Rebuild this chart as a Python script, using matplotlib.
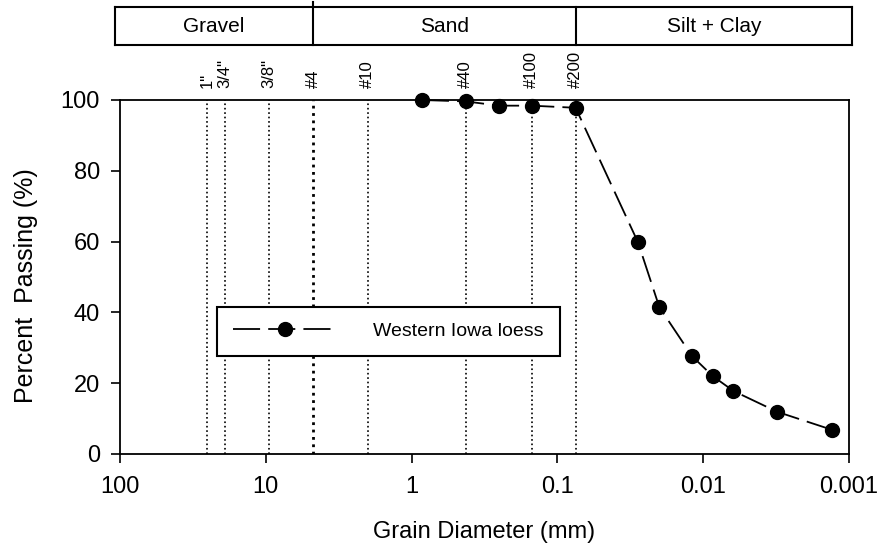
import matplotlib.pyplot as plt
import numpy as np

plt.rcParams['font.family'] = ['Liberation Sans', 'DejaVu Sans']

# sieve openings (mm) and their names
sieve_mm = [25.4, 19.05, 9.525, 4.75, 2.0, 0.425, 0.15, 0.075]
sieve_names = ['1"', '3/4"', '3/8"', '#4', '#10', '#40', '#100', '#200']

# grain size curve, Western Iowa loess
diam = [0.85, 0.425, 0.25, 0.15, 0.075, 0.028, 0.020, 0.0119, 0.0086, 0.0062, 0.0031, 0.0013]
passing = [100, 99.6, 98.4, 98.4, 97.8, 59.8, 41.5, 27.6, 22.0, 17.8, 11.9, 6.8]

# soil classes along the top
classes = ['Gravel', 'Sand', 'Silt + Clay']
class_bounds = [4.75, 0.075]

fig = plt.figure(figsize=(8.83, 5.5), dpi=100)
ax = fig.add_axes([120/883, 1-454/550, 729/883, 354/550])

ax.set_xscale('log')
ax.set_xlim(100, 0.001)
ax.set_ylim(0, 100)

for d in sieve_mm:
    lw = 2.0 if d == 4.75 else 1.2
    ax.vlines(d, 0, 100, colors='black', linestyles=':', linewidth=lw)
for d, name in zip(sieve_mm, sieve_names):
    ax.text(d, 103.3, name, rotation=90, ha='center', va='bottom', fontsize=12, clip_on=False)

ax.plot(diam, passing, color='black', lw=1.3, linestyle=(0, (15, 4.5)),
        marker='o', markersize=10, clip_on=False, zorder=5, label='Western Iowa loess')

ax.set_xticks([100, 10, 1, 0.1, 0.01, 0.001])
ax.set_xticklabels(['100', '10', '1', '0.1', '0.01', '0.001'])
ax.xaxis.set_minor_locator(plt.NullLocator())
ax.set_yticks([0, 20, 40, 60, 80, 100])
ax.tick_params(axis='both', direction='out', length=6.5, width=1.2, labelsize=17)
ax.tick_params(axis='x', pad=9)
ax.tick_params(axis='y', pad=8)
for s in ax.spines.values():
    s.set_linewidth(1.3)

ax.set_xlabel('Grain Diameter (mm)', fontsize=17)
ax.xaxis.set_label_coords(0.5, -0.19)
ax.set_ylabel('Percent  Passing (%)', fontsize=18)
ax.yaxis.set_label_coords(-0.112, 0.475)

leg = ax.legend(loc='upper left', bbox_to_anchor=(0.133, 0.415), borderaxespad=0,
                fontsize=14, borderpad=0.8, handlelength=5.4, handletextpad=1.85,
                fancybox=False, framealpha=1, edgecolor='black')
leg.get_frame().set_linewidth(1.5)

# class band on top
bx = fig.add_axes([115/883, 1-45/550, 737/883, 38/550])
bx.set_xscale('log')
bx.set_xlim(100*10**(5/145.8), 0.001*10**(-3/145.8))
bx.set_ylim(0, 1)
bx.set_xticks([])
bx.set_yticks([])
bx.xaxis.set_minor_locator(plt.NullLocator())
for s in bx.spines.values():
    s.set_linewidth(1.5)
lo, hi = bx.get_xlim()
edges = [lo] + class_bounds + [hi]
for b in class_bounds:
    bx.axvline(b, ymin=0, ymax=1.0 if b != 4.75 else 1.13, color='black', lw=1.5, clip_on=False)
for i, name in enumerate(classes):
    mid = np.sqrt(edges[i] * edges[i+1])
    bx.text(mid, 0.5, name, ha='center', va='center', fontsize=15)

fig.savefig('out.png', dpi=100)
